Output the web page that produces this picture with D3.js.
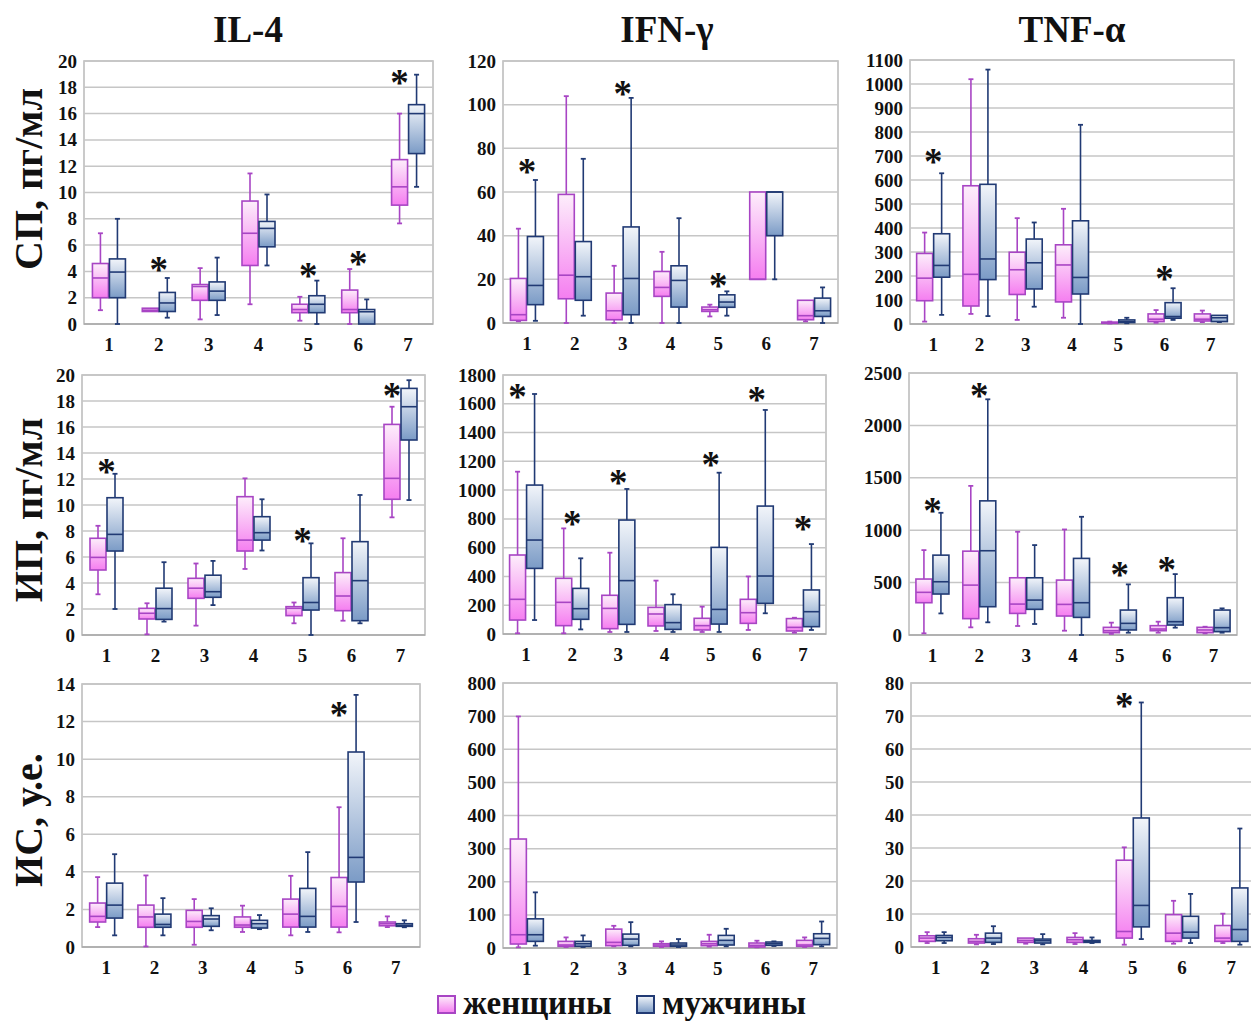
<!DOCTYPE html>
<html><head><meta charset="utf-8">
<script src="https://cdn.jsdelivr.net/npm/d3@7"></script>
<style>body{margin:0;background:#fff}svg{display:block}</style>
</head><body><svg id="c" width="1251" height="1024"></svg>
<script>
const categories = ["1","2","3","4","5","6","7"];
const columnTitles = ["IL-4","IFN-γ","TNF-α"];
const rowTitles = ["СП, пг/мл","ИП, пг/мл","ИС, у.е."];
const legendLabels = ["женщины","мужчины"];

// each entry: [min, q1, median, q3, max]
const il4SpWomen = [[1.05,2,3.5,4.6,6.9],[0.95,0.95,1.05,1.2,1.2],[0.35,1.8,2.85,3.0,4.25],[1.5,4.45,6.9,9.35,11.45],[0.25,0.86,1.1,1.5,2.07],[0,0.86,1.1,2.58,4.18],[7.65,9.04,10.43,12.5,16]];
const il4SpMen   = [[0,2,3.95,4.95,8],[0.48,0.95,1.6,2.4,3.5],[0.68,1.8,2.5,3.2,5.05],[4.45,5.87,7.27,7.8,9.85],[0,0.86,1.5,2.15,3.3],[0,0,0.93,1.1,1.87],[10.43,12.96,16.0,16.68,18.96]];
const ifnSpWomen = [[0.8,1.2,3.8,20.4,43.2],[0,11.1,21.9,58.9,103.9],[0,1.5,5.6,13.7,26.2],[0,12.2,16.3,23.6,32.6],[3.0,5.3,6.1,7.3,8.4],[20,20,20,60,60],[0.76,1.5,3.35,10.4,10.4]];
const ifnSpMen   = [[1,8.4,17.2,39.6,65.5],[3.35,10.4,21.2,37.3,75.2],[0,3.8,20.4,44,103.1],[0,7.3,19.5,26.2,48],[3.35,7.2,9.6,12.9,14.5],[20,40,60,60,60],[0,3,5.6,11.4,16.3]];
const tnfSpWomen = [[10,97,191,294,381],[42,75,207,576,1020],[17,123,226,299,441],[26,92,246,330,480],[2,3,5,8,10],[5,10,20,42,58],[8,12.5,20,42,56]];
const tnfSpMen   = [[38,195,244,376,628],[33,185,271,582,1060],[72,146,255,354,423],[0,125,194,430,830],[3,6,10,17,26],[17,24,31,89,149],[8,10,26,36,36]];

const il4IpWomen = [[3.13,5.0,5.97,7.44,8.4],[0.05,1.23,1.67,2.05,2.44],[0.72,2.82,3.6,4.36,5.5],[5.08,6.46,7.3,10.64,12.05],[0.9,1.49,2.05,2.18,2.5],[1.1,1.87,3.0,4.8,7.44],[9.05,10.44,12.05,16.2,17.56]];
const il4IpMen   = [[2.0,6.46,7.74,10.56,12.4],[1.03,1.2,2.03,3.6,5.6],[2.3,2.9,3.33,4.6,5.7],[6.5,7.3,7.87,9.1,10.44],[0,1.92,2.5,4.41,7.05],[0.9,1.1,4.18,7.18,10.77],[10.38,15.0,17.56,18.97,19.6]];
const ifnIpWomen = [[5,97,241,549,1128],[5,58,220,387,734],[14,37,178,269,565],[21,56,139,185,371],[14,28,58,109,190],[28,74,148,241,400],[9,21,46,107,113]];
const ifnIpMen   = [[97,456,653,1035,1668],[32,102,176,317,526],[14,67,371,792,1008],[14,32,79,204,276],[14,69,171,602,1121],[144,213,403,889,1557],[28,51,155,306,625]];
const tnfIpWomen = [[16,308,407,534,810],[73,156,476,800,1423],[86,206,295,546,985],[41,181,292,524,1007],[10,22,41,73,118],[22,41,57,89,127],[15,22,48,73,79]];
const tnfIpMen   = [[206,391,508,762,1166],[121,270,804,1280,2249],[105,245,333,546,858],[0,168,308,731,1128],[22,48,111,238,483],[70,95,127,356,581],[22,32,70,238,254]];

const il4IsWomen = [[1.06,1.33,1.63,2.34,3.72],[0.03,1.05,1.6,2.23,3.81],[0.12,1.05,1.36,1.95,2.55],[0.8,1.05,1.17,1.6,2.2],[0.62,1.06,1.75,2.55,3.79],[0.78,1.06,2.16,3.7,7.44],[1.06,1.13,1.24,1.33,1.63]];
const il4IsMen   = [[0.62,1.54,2.23,3.4,4.94],[0.62,1.05,1.2,1.75,2.6],[0.89,1.1,1.49,1.67,2.06],[0.95,1.01,1.24,1.42,1.7],[0.8,1.06,1.63,3.12,5.05],[1.33,3.46,4.77,10.38,13.42],[1.05,1.1,1.15,1.24,1.42]];
const ifnIsWomen = [[2,12,40,329,699],[3,5,9,20,32],[5,7,17,57,67],[3,5,9,13,20],[4,7,13,20,40],[2,3,8,15,22],[3,5,9,23,32]];
const ifnIsMen   = [[7,20,40,88,168],[3,5,13,20,38],[5,8,27,42,78],[3,5,9,15,27],[5,9,23,38,58],[6,8,13,18,20],[5,10,29,43,80]];
const tnfIsWomen = [[1.2,1.7,2.7,3.4,4.5],[0.8,1.2,1.7,2.5,3.7],[1.0,1.4,2.0,2.7,2.7],[0.9,1.4,2.2,2.9,4.2],[0.7,2.7,4.7,26.3,30.2],[1.0,1.7,4.2,9.8,14.0],[1.2,1.7,2.7,6.5,10.1]];
const tnfIsMen   = [[1.2,1.9,2.9,3.5,4.5],[0.9,1.4,2.7,4.2,6.3],[0.8,1.2,1.9,2.4,3.9],[1.2,1.4,1.7,2.0,2.9],[2.4,6.1,12.6,39.1,74.1],[1.2,2.7,4.5,9.3,16.1],[0.7,1.7,5.3,17.9,35.9]];

// significance marks: [category, value level]
const il4SpStars = [["2",4.56],["5",4.1],["6",5.0],["7",18.8]];
const ifnSpStars = [["1",71.9],["3",107.7],["5",19.8]];
const tnfSpStars = [["1",699],["6",212]];
const il4IpStars = [["1",13.0],["5",7.7],["7",18.85]];
const ifnIpStars = [["1",1691],["2",804],["3",1093],["5",1214],["6",1666],["7",769]];
const tnfIpStars = [["1",1239],["2",2335],["5",626],["6",673]];
const il4IsStars = [["6",12.65]];
const ifnIsStars = [];
const tnfIsStars = [["5",74.7]];

// axis maxima and tick steps
const yMax  = [20,120,1100, 20,1800,2500, 14,800,80];
const yStep = [2,20,100, 2,200,500, 2,100,10];

const panelData = [
  [il4SpWomen,il4SpMen,il4SpStars],[ifnSpWomen,ifnSpMen,ifnSpStars],[tnfSpWomen,tnfSpMen,tnfSpStars],
  [il4IpWomen,il4IpMen,il4IpStars],[ifnIpWomen,ifnIpMen,ifnIpStars],[tnfIpWomen,tnfIpMen,tnfIpStars],
  [il4IsWomen,il4IsMen,il4IsStars],[ifnIsWomen,ifnIsMen,ifnIsStars],[tnfIsWomen,tnfIsMen,tnfIsStars]
];

// layout (pixel frames)
const frames = [
  {l:84,r:433,t:61,b:324},{l:503,r:838,t:61,b:323},{l:910,r:1234,t:60,b:324},
  {l:82,r:425,t:375,b:635},{l:503,r:826,t:375,b:634},{l:909,r:1237,t:373,b:635},
  {l:82,r:420,t:684,b:947},{l:503,r:837,t:683,b:948},{l:911,r:1256,t:683,b:947}
];
const FONT = "'Liberation Serif','Times New Roman',serif";
const svg = d3.select("#c");

const defs = svg.append("defs");
function grad(id, c1, c2){
  const g = defs.append("linearGradient").attr("id",id).attr("x1",0).attr("y1",0).attr("x2",0).attr("y2",1);
  g.append("stop").attr("offset","0%").attr("stop-color",c1);
  g.append("stop").attr("offset","100%").attr("stop-color",c2);
}
grad("gPink","#fdeefb","#f57ef0");
grad("gBlue","#f2f5fa","#7b9bc6");
const styles = [
  {fill:"url(#gPink)", stroke:"#a845c4", dx:-16.5},
  {fill:"url(#gBlue)", stroke:"#213a74", dx:0.5}
];
const BW = 16;

frames.forEach((f,i)=>{
  const [women, men, stars] = panelData[i];
  const x = d3.scaleBand().domain(categories).range([f.l,f.r]);
  const y = d3.scaleLinear().domain([0,yMax[i]]).range([f.b,f.t]);
  const ticks = d3.range(0, yMax[i]+yStep[i]/2, yStep[i]);
  const g = svg.append("g");
  g.append("rect").attr("x",f.l).attr("y",f.t).attr("width",f.r-f.l).attr("height",f.b-f.t)
    .attr("fill","#fff").attr("stroke","#bdbdbd").attr("stroke-width",1.6);
  g.selectAll("line.grid").data(ticks.filter(t=>t>0)).join("line")
    .attr("x1",f.l).attr("x2",f.r).attr("y1",d=>y(d)).attr("y2",d=>y(d))
    .attr("stroke","#c6c6c6").attr("stroke-width",1.5);
  g.append("line").attr("x1",f.l).attr("x2",f.r).attr("y1",f.b).attr("y2",f.b)
    .attr("stroke","#a8a8a8").attr("stroke-width",1.6);
  const ya = g.append("g").attr("transform",`translate(${f.l},0)`)
    .call(d3.axisLeft(y).tickValues(ticks).tickSize(0).tickPadding(7).tickFormat(d3.format("d")));
  ya.select(".domain").remove();
  ya.selectAll("text").attr("font-family",FONT).attr("font-weight","bold").attr("font-size",19).attr("fill","#111");
  const xa = g.append("g").attr("transform",`translate(0,${f.b})`)
    .call(d3.axisBottom(x).tickSize(0).tickPadding(14));
  xa.select(".domain").remove();
  xa.selectAll("text").attr("font-family",FONT).attr("font-weight","bold").attr("font-size",19).attr("fill","#111");

  [women, men].forEach((series, s)=>{
    const st = styles[s];
    const bg = g.append("g");
    series.forEach((v,k)=>{
      const cx = x(categories[k]) + x.bandwidth()/2 + st.dx;
      const mid = cx + BW/2;
      const [mn,q1,md,q3,mx] = v;
      bg.append("line").attr("x1",mid).attr("x2",mid).attr("y1",y(q3)).attr("y2",y(mx)).attr("stroke",st.stroke).attr("stroke-width",1.6);
      bg.append("line").attr("x1",mid).attr("x2",mid).attr("y1",y(q1)).attr("y2",y(mn)).attr("stroke",st.stroke).attr("stroke-width",1.6);
      if (mx>q3) bg.append("line").attr("x1",mid-2.5).attr("x2",mid+2.5).attr("y1",y(mx)).attr("y2",y(mx)).attr("stroke",st.stroke).attr("stroke-width",1.8);
      if (mn<q1) bg.append("line").attr("x1",mid-2.5).attr("x2",mid+2.5).attr("y1",y(mn)).attr("y2",y(mn)).attr("stroke",st.stroke).attr("stroke-width",1.8);
      bg.append("rect").attr("x",cx).attr("width",BW).attr("y",y(q3)).attr("height",Math.max(1,y(q1)-y(q3)))
        .attr("fill",st.fill).attr("stroke",st.stroke).attr("stroke-width",1.6);
      bg.append("line").attr("x1",cx).attr("x2",cx+BW).attr("y1",y(md)).attr("y2",y(md)).attr("stroke",st.stroke).attr("stroke-width",1.6);
    });
  });
  // stars: centred on the category; moved over the women's box if the men's whisker would run through it
  const starX = d=>{
    const k = categories.indexOf(d[0]);
    const c = x(d[0]) + x.bandwidth()/2;
    return (y(d[1]) + 6 > y(men[k][4])) ? c + styles[0].dx + BW/2 : c;
  };
  g.selectAll("text.star").data(stars).join("text")
    .attr("x",starX).attr("y",d=>y(d[1])+18)
    .attr("text-anchor","middle").attr("font-family",FONT).attr("font-weight","bold").attr("font-size",37).attr("fill","#111")
    .text("*");
});

const titleX = [248,667,1072];
columnTitles.forEach((t,i)=>{
  svg.append("text").attr("x",titleX[i]).attr("y",42).attr("text-anchor","middle")
    .attr("font-family",FONT).attr("font-weight","bold").attr("font-size",37).attr("fill","#111").text(t);
});
const rowY = [179,510,820];
rowTitles.forEach((t,i)=>{
  svg.append("text").attr("transform",`translate(42,${rowY[i]}) rotate(-90)`).attr("text-anchor","middle")
    .attr("font-family",FONT).attr("font-weight","bold").attr("font-size",40).attr("fill","#111").text(t);
});
const legX = [438,637];
legendLabels.forEach((t,i)=>{
  svg.append("rect").attr("x",legX[i]).attr("y",996).attr("width",17).attr("height",17)
    .attr("fill",styles[i].fill).attr("stroke",styles[i].stroke).attr("stroke-width",2);
  svg.append("text").attr("x",legX[i]+25).attr("y",1014).attr("font-family",FONT).attr("font-weight","bold")
    .attr("font-size",33).attr("fill","#111").text(t);
});
</script></body></html>
